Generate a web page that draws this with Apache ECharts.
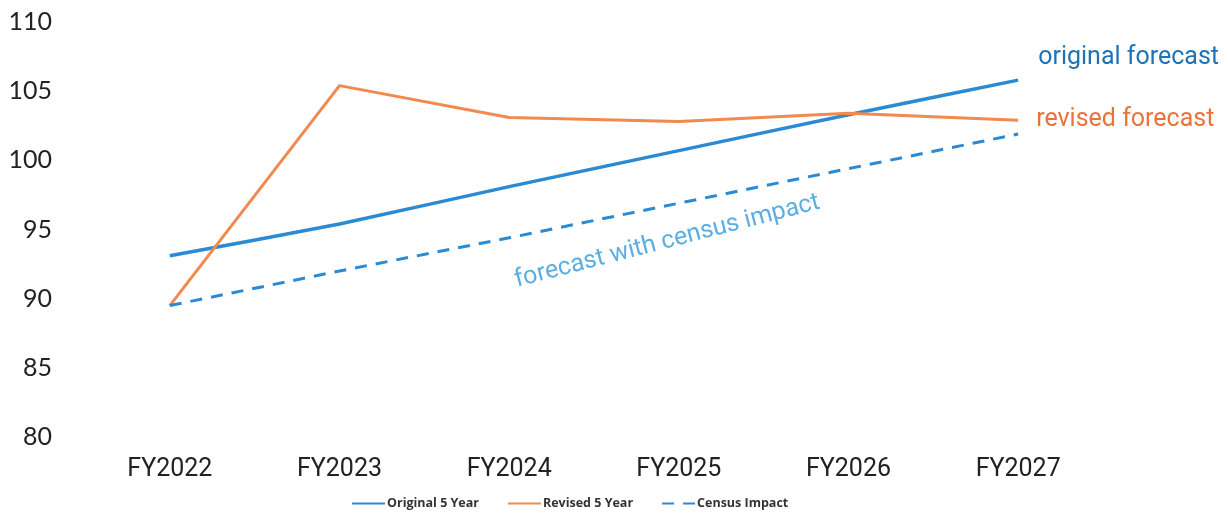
<!DOCTYPE html>
<html><head><meta charset="utf-8">
<script src="https://cdn.jsdelivr.net/npm/echarts@6/dist/echarts.min.js"></script>
<style>html,body{margin:0;padding:0;background:#fff}#c{width:1228px;height:517px}</style>
</head><body><div id="c"></div>
<script>
const categories = ['FY2022','FY2023','FY2024','FY2025','FY2026','FY2027'];
const original5Year = [93.1, 95.4, 98.1, 100.7, 103.3, 105.8];
const revised5Year = [89.5, 105.4, 103.1, 102.8, 103.4, 102.9];
const censusImpact = [89.5, 92.0, 94.4, 96.9, 99.4, 101.9];
const yTicks = [80, 85, 90, 95, 100, 105, 110];

const chart = echarts.init(document.getElementById('c'));
chart.setOption({
  animation: false,
  backgroundColor: '#fff',
  grid: { left: 85, right: 125, top: 22, bottom: 80 },
  xAxis: {
    type: 'category', data: categories, boundaryGap: true,
    axisLine: { show: false }, axisTick: { show: false },
    axisLabel: { color: '#222', fontSize: 25, fontFamily: 'Liberation Sans Narrow, Roboto', margin: 20 }
  },
  yAxis: {
    type: 'value', min: yTicks[0], max: yTicks[yTicks.length-1], interval: 5,
    splitLine: { show: false }, axisLine: { show: false }, axisTick: { show: false },
    axisLabel: { color: '#222', fontSize: 25, fontFamily: 'Lato, Noto Sans', margin: 33 }
  },
  legend: {
    bottom: 2, left: 346, itemGap: 28, itemWidth: 33, itemHeight: 10,
    itemStyle: { opacity: 0 },
    textStyle: { fontSize: 12.5, fontWeight: 'bold', color: '#333', fontFamily: 'Open Sans', padding: [0,0,0,-3] },
    data: ['Original 5 Year', 'Revised 5 Year', 'Census Impact']
  },
  series: [
    { name: 'Original 5 Year', type: 'line', data: original5Year, symbol: 'none', smooth: 0.15,
      lineStyle: { color: '#2a8ad4', width: 3.5 }, itemStyle: { color: '#2a8ad4' },
      endLabel: { show: true, formatter: 'original forecast', color: '#1f72b5', fontSize: 25,
        fontFamily: 'Liberation Sans Narrow, Roboto', distance: 20, offset: [0, -22] } },
    { name: 'Revised 5 Year', type: 'line', data: revised5Year, symbol: 'none',
      lineStyle: { color: '#f08a4e', width: 3 }, itemStyle: { color: '#f08a4e' },
      endLabel: { show: true, formatter: 'revised forecast', color: '#e8743b', fontSize: 25,
        fontFamily: 'Liberation Sans Narrow, Roboto', distance: 18, offset: [0, 0] } },
    { name: 'Census Impact', type: 'line', data: censusImpact, symbol: 'none',
      lineStyle: { color: '#2a8ad4', width: 3, type: [12, 9] }, itemStyle: { color: '#2a8ad4' } }
  ],
  graphic: [{
    type: 'text', left: 512, top: 190, rotation: 14.5 * Math.PI / 180, originX: 0, originY: 0,
    style: { text: 'forecast with census impact', fill: '#5aaee2', fontSize: 25,
      fontFamily: 'Liberation Sans Narrow, Roboto' }
  }]
});
</script></body></html>
